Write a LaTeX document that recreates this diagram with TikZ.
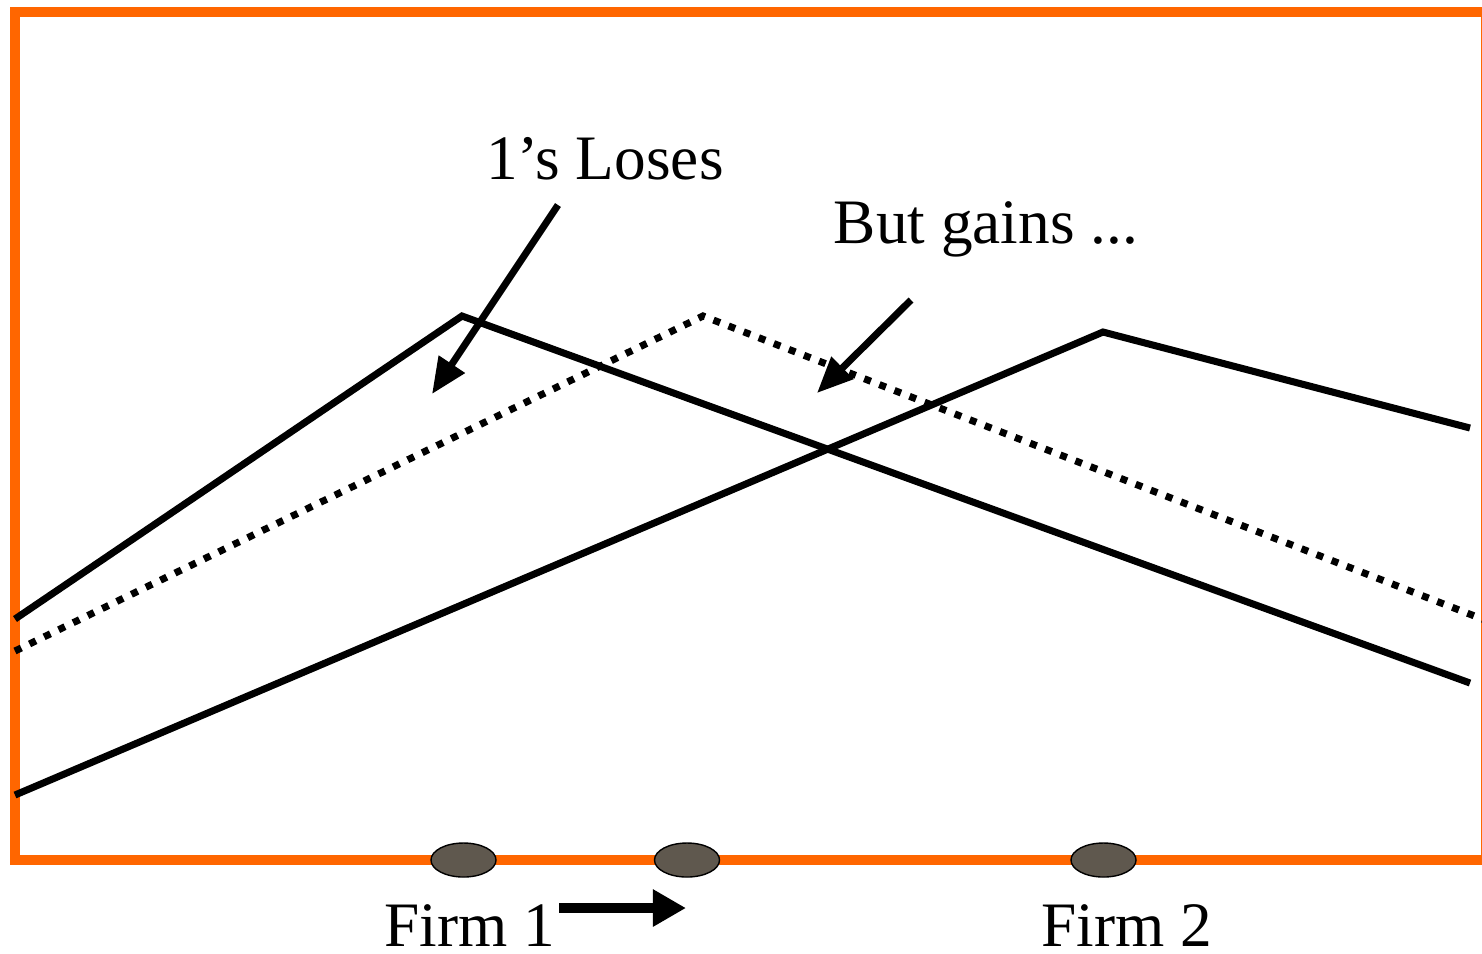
\documentclass[tikz,border=0pt]{standalone}
\usepackage{fontspec}
\setmainfont{Liberation Serif}
\usetikzlibrary{arrows.meta,shapes.geometric}
\definecolor{frameorange}{HTML}{FF6600}
\definecolor{firmfill}{HTML}{5F584E}
\begin{document}
\begin{tikzpicture}[x=0.01cm,y=-0.01cm,
  curve/.style={line width=2pt, black},
  dotcurve/.style={line width=2pt, black, dash pattern=on 2pt off 2.6pt},
  callout/.style={line width=2pt, -{Triangle[length=10.2pt,width=8.5pt]}},
  label/.style={font=\fontsize{18}{20}\selectfont, anchor=base, inner sep=0pt},
  firm/.style={ellipse, draw=black, line width=0.4pt, fill=firmfill, minimum width=0.65cm, minimum height=0.34cm, inner sep=0pt}
]
\useasboundingbox (0,0) rectangle (1482,953);
\clip (0,0) rectangle (1482,953);
% frame
\draw[frameorange, line width=3.1pt] (15,12) rectangle (1486,860);
% curve vertices
\coordinate (a0) at (15,619);
\coordinate (a1) at (462,316);
\coordinate (a2) at (1470,683);
\coordinate (d0) at (15,651);
\coordinate (d1) at (703,316);
\coordinate (d2) at (1490,622);
\coordinate (b0) at (15,795);
\coordinate (b1) at (1103,332);
\coordinate (b2) at (1470,428);
\draw[curve] (a0) -- (a1) -- (a2);
\draw[dotcurve] (d0) -- (d1) -- (d2);
\draw[curve] (b0) -- (b1) -- (b2);
% firms
\node[firm] (f1) at (463.5,860) {};
\node[firm] (f1b) at (687,860) {};
\node[firm] (f2) at (1103.5,860) {};
% labels
\node[label] (loses) at (605,179) {1’s Loses};
\node[label] (gains) at (986,243) {But gains ...};
\node[label] (firm1) at (470,946) {Firm 1};
\node[label] (firm2) at (1127,946) {Firm 2};
% callout arrows
\coordinate (l0) at (558,205);
\coordinate (l1) at (432,394);
\coordinate (g0) at (911,300);
\coordinate (g1) at (817,393);
\draw[callout] (l0) -- (l1);
\draw[callout] (g0) -- (g1);
% move arrow
\coordinate (m0) at (559,908);
\coordinate (m1) at (686,908);
\draw[line width=2.6pt, -{Triangle[length=9.4pt,width=10pt]}] (m0) -- (m1);
\end{tikzpicture}
\end{document}
